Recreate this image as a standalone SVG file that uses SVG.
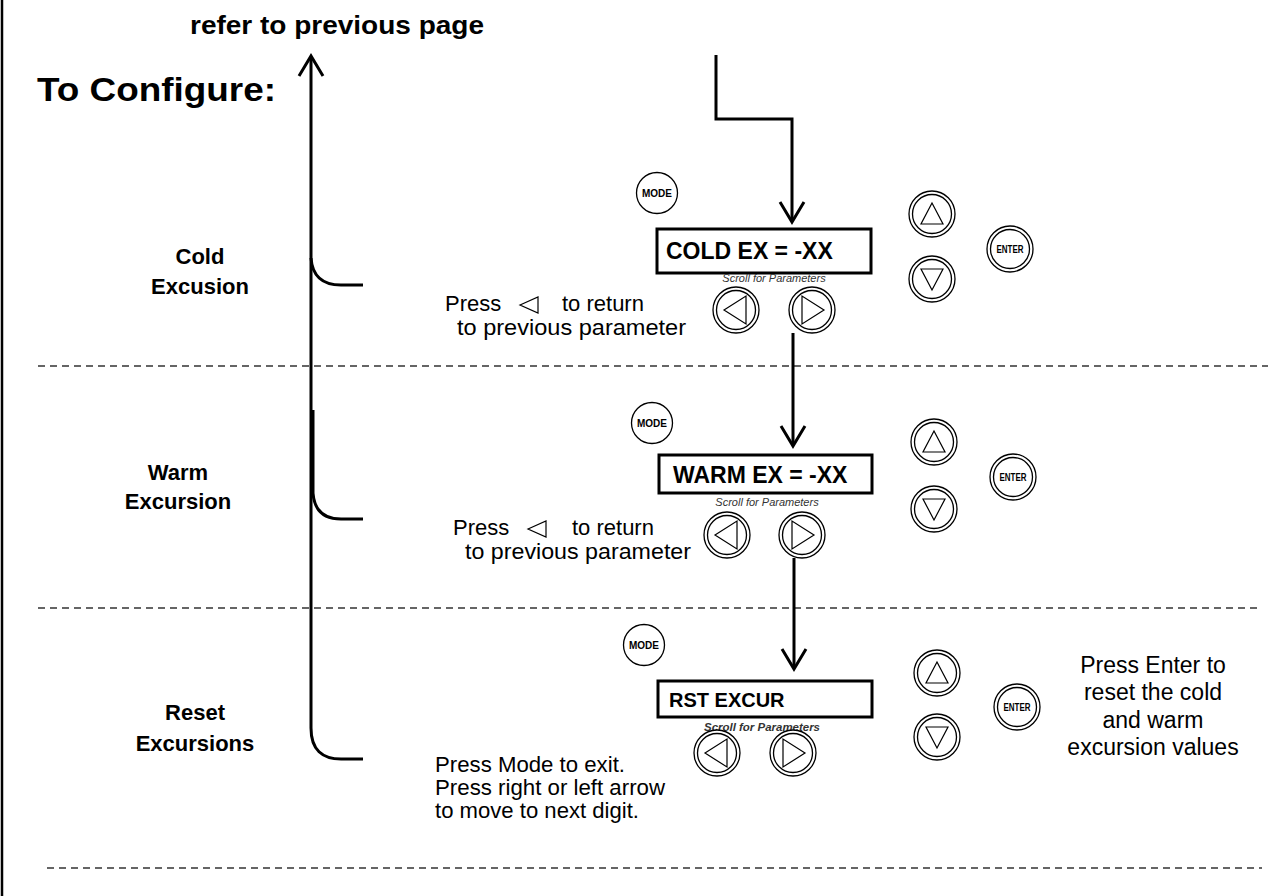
<svg xmlns="http://www.w3.org/2000/svg" width="1281" height="896" viewBox="0 0 1281 896">
<style>
.t{font-family:"Liberation Sans",Arial,sans-serif;fill:#000}
.b{font-weight:bold}
.ln{fill:none;stroke:#000;stroke-width:3}
.dash{fill:none;stroke:#333;stroke-width:1.5;stroke-dasharray:7 5}
.btn{fill:#fff;stroke:#000;stroke-width:1.3}
.tri{fill:none;stroke:#000;stroke-width:1.2}
.box{fill:#fff;stroke:#000;stroke-width:3}
.sc{font-family:"Liberation Sans",Arial,sans-serif;font-style:italic;font-size:11px;fill:#333}
.bt{font-family:"Liberation Sans",Arial,sans-serif;font-weight:bold}
</style>
<defs>
<g id="dbl"><circle class="btn" r="23"/><circle class="btn" r="19.5"/></g>
<g id="up"><use href="#dbl"/><polygon class="tri" points="0,-11 -11,10 11,10"/></g>
<g id="dn"><use href="#dbl"/><polygon class="tri" points="0,11 -11,-10 11,-10"/></g>
<g id="lf"><use href="#dbl"/><polygon class="tri" points="-12,0 10,-14 10,14"/></g>
<g id="rt"><use href="#dbl"/><polygon class="tri" points="12,0 -10,-14 -10,14"/></g>
<g id="en"><use href="#dbl"/><text class="bt" x="0" y="3.8" font-size="10" text-anchor="middle" textLength="27" lengthAdjust="spacingAndGlyphs">ENTER</text></g>
<g id="md"><circle class="btn" r="20.5" stroke-width="1.5"/><text class="bt" x="0" y="4" font-size="11" text-anchor="middle" textLength="30" lengthAdjust="spacingAndGlyphs">MODE</text></g>
</defs>
<rect width="1281" height="896" fill="#fff"/>
<line x1="2" y1="0" x2="2" y2="896" stroke="#000" stroke-width="2.5"/>

<g id="header">
<text class="t b" x="190" y="34" font-size="25" textLength="294" lengthAdjust="spacingAndGlyphs">refer to previous page</text>
<text class="t b" x="37" y="101" font-size="34" textLength="239" lengthAdjust="spacingAndGlyphs">To Configure:</text>
</g>

<g id="dividers">
<line class="dash" x1="38" y1="366" x2="1268" y2="366"/>
<line class="dash" x1="38" y1="608" x2="1262" y2="608"/>
<line class="dash" x1="47" y1="868" x2="1262" y2="868"/>
</g>

<g id="connectors">
<path class="ln" d="M311,57 V728 Q311,760 343,759 H363"/>
<path class="ln" d="M299,76 L311,56 L323,76" stroke-width="2.5"/>
<path class="ln" d="M311,258 Q313,286 343,285 H363"/>
<path class="ln" d="M313,410 V493 Q315,520 343,519 H363"/>
<path class="ln" d="M716,55 V119 H792 V221"/>
<path class="ln" d="M780,202 L792,222 L804,202"/>
<path class="ln" d="M793,333 V445"/>
<path class="ln" d="M781,426 L793,446 L805,426"/>
<path class="ln" d="M794,558 V668"/>
<path class="ln" d="M782,649 L794,669 L806,649"/>
</g>

<g id="label-cold">
<text class="t b" x="200" y="264" font-size="22" text-anchor="middle">Cold</text>
<text class="t b" x="200" y="294" font-size="22" text-anchor="middle">Excusion</text>
</g>
<g id="label-warm">
<text class="t b" x="178" y="480" font-size="22" text-anchor="middle">Warm</text>
<text class="t b" x="178" y="509" font-size="22" text-anchor="middle">Excursion</text>
</g>
<g id="label-reset">
<text class="t b" x="195" y="720" font-size="22" text-anchor="middle">Reset</text>
<text class="t b" x="195" y="751" font-size="22" text-anchor="middle">Excursions</text>
</g>

<g id="panel-cold">
<use href="#md" x="657" y="193"/>
<rect class="box" x="657" y="229" width="214" height="44"/>
<text class="t b" x="666" y="259" font-size="23">COLD EX = -XX</text>
<text class="sc" x="774" y="282" text-anchor="middle">Scroll for Parameters</text>
<use href="#lf" x="736" y="310"/>
<use href="#rt" x="812" y="310"/>
<use href="#up" x="932" y="214"/>
<use href="#dn" x="932" y="279"/>
<use href="#en" x="1010" y="249"/>
</g>
<g id="note-cold">
<text class="t" x="445" y="311" font-size="22">Press</text>
<polygon class="tri" points="520,305 538,297 538,313"/>
<text class="t" x="562" y="311" font-size="22">to return</text>
<text class="t" x="457" y="335" font-size="22" textLength="229" lengthAdjust="spacingAndGlyphs">to previous parameter</text>
</g>

<g id="panel-warm">
<use href="#md" x="652" y="423"/>
<rect class="box" x="659" y="455" width="213" height="38"/>
<text class="t b" x="673" y="483" font-size="23">WARM EX = -XX</text>
<text class="sc" x="767" y="506" text-anchor="middle">Scroll for Parameters</text>
<use href="#lf" x="727" y="535"/>
<use href="#rt" x="802" y="535"/>
<use href="#up" x="934" y="442"/>
<use href="#dn" x="934" y="509"/>
<use href="#en" x="1013" y="477"/>
</g>
<g id="note-warm">
<text class="t" x="453" y="535" font-size="22">Press</text>
<polygon class="tri" points="528,529 546,521 546,537"/>
<text class="t" x="572" y="535" font-size="22">to return</text>
<text class="t" x="465" y="559" font-size="22" textLength="226" lengthAdjust="spacingAndGlyphs">to previous parameter</text>
</g>

<g id="panel-reset">
<use href="#md" x="644" y="645"/>
<rect class="box" x="658" y="681" width="214" height="36"/>
<text class="t b" x="669" y="707" font-size="20">RST EXCUR</text>
<text class="sc" x="762" y="731" text-anchor="middle" font-weight="bold" textLength="116" lengthAdjust="spacingAndGlyphs">Scroll for Parameters</text>
<use href="#lf" x="717" y="753"/>
<use href="#rt" x="793" y="753"/>
<use href="#up" x="937" y="673"/>
<use href="#dn" x="937" y="737"/>
<use href="#en" x="1017" y="707"/>
</g>
<g id="note-reset">
<text class="t" x="435" y="772" font-size="22" textLength="190" lengthAdjust="spacingAndGlyphs">Press Mode to exit.</text>
<text class="t" x="435" y="795" font-size="22" textLength="230" lengthAdjust="spacingAndGlyphs">Press right or left arrow</text>
<text class="t" x="435" y="818" font-size="22" textLength="204" lengthAdjust="spacingAndGlyphs">to move to next digit.</text>
</g>
<g id="note-enter">
<text class="t" x="1153" y="673" font-size="23" text-anchor="middle">Press Enter to</text>
<text class="t" x="1153" y="700" font-size="23" text-anchor="middle">reset the cold</text>
<text class="t" x="1153" y="728" font-size="23" text-anchor="middle">and warm</text>
<text class="t" x="1153" y="755" font-size="23" text-anchor="middle">excursion values</text>
</g>
</svg>
